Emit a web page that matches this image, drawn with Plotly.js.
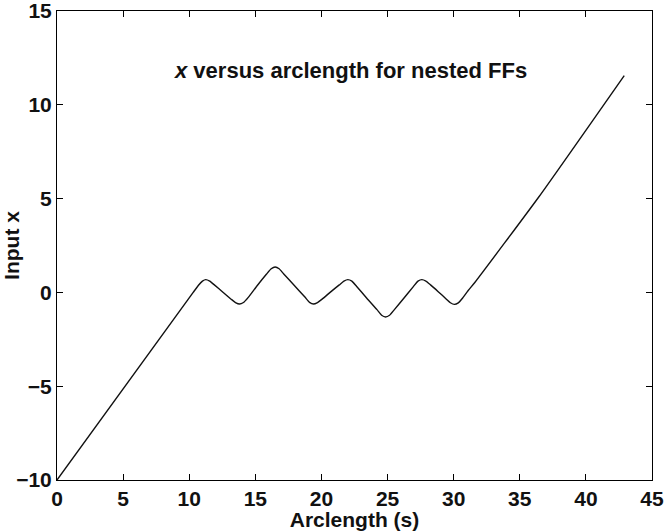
<!DOCTYPE html>
<html>
<head>
<meta charset="utf-8">
<script src="https://cdn.plot.ly/plotly-3.0.1.min.js"></script>
<style>html,body{margin:0;padding:0;background:#fff;}#chart{width:664px;height:531px;}</style>
</head>
<body>
<div id="chart"></div>
<script>
// Arclength (s) values
const arclength = [0, 10.3, 10.7, 11.0, 11.25, 11.55, 11.9, 12.55, 13.2, 13.5, 13.8, 14.1, 14.45, 15.15, 15.85, 16.2, 16.5, 16.8, 17.15, 17.95, 18.75, 19.1, 19.4, 19.7, 20.05, 20.7, 21.35, 21.7, 22.0, 22.3, 22.65, 23.43, 24.2, 24.55, 24.85, 25.15, 25.5, 26.23, 26.95, 27.3, 27.6, 27.9, 28.25, 28.83, 29.45, 29.75, 30.05, 30.35, 30.7, 31.1, 31.6, 36.45, 42.9];
// Input x values
const inputX = [-10, 0.0, 0.38, 0.6, 0.68, 0.6, 0.4, 0.01, -0.38, -0.54, -0.62, -0.54, -0.28, 0.37, 0.98, 1.26, 1.35, 1.26, 0.98, 0.37, -0.25, -0.53, -0.62, -0.54, -0.36, 0.03, 0.4, 0.6, 0.68, 0.6, 0.33, -0.31, -0.92, -1.22, -1.31, -1.22, -0.93, -0.31, 0.31, 0.6, 0.68, 0.6, 0.4, 0.04, -0.36, -0.55, -0.64, -0.56, -0.28, 0.1, 0.53, 5.1, 11.56];
const xTicks = [0, 5, 10, 15, 20, 25, 30, 35, 40, 45];
const yTicks = [-10, -5, 0, 5, 10, 15];
const titleText = "<i>x</i> versus arclength for nested FFs";
const xTitle = "Arclength (s)";
const yTitle = "Input x";

const fontFam = "Liberation Sans, Arial, Helvetica, sans-serif";
const trace = {
  x: arclength, y: inputX, type: 'scatter', mode: 'lines',
  line: {color: '#111', width: 1.4, shape: 'spline', smoothing: 0.5},
  hoverinfo: 'none'
};
const axisCommon = {
  showline: true, linecolor: '#000', linewidth: 1, mirror: 'ticks',
  ticks: 'inside', ticklen: 6, tickwidth: 1, tickcolor: '#000',
  showgrid: false, zeroline: false, ticklabeloverflow: 'allow',
  tickfont: {family: fontFam, size: 21, color: '#111', weight: 'bold'}
};
const layout = {
  width: 664, height: 531,
  margin: {l: 57, r: 12, t: 11, b: 51},
  paper_bgcolor: '#fff', plot_bgcolor: '#fff',
  showlegend: false,
  xaxis: Object.assign({}, axisCommon, {
    range: [0, 45], tickvals: xTicks, ticktext: xTicks.map(String),
    title: {text: xTitle, font: {family: fontFam, size: 21, color: '#111', weight: 'bold'}, standoff: 0}
  }),
  yaxis: Object.assign({}, axisCommon, {
    range: [-10, 15], tickvals: yTicks, ticktext: yTicks.map(v => v < 0 ? '\u2212' + Math.abs(v) : String(v)),
    title: {text: yTitle, font: {family: fontFam, size: 21, color: '#111', weight: 'bold'}, standoff: 1}
  }),
  annotations: [{
    text: titleText, xref: 'paper', yref: 'paper', x: 0.493, y: 0.873,
    xanchor: 'center', yanchor: 'middle', showarrow: false,
    font: {family: fontFam, size: 22, color: '#111', weight: 'bold'}
  }]
};
Plotly.newPlot('chart', [trace], layout, {staticPlot: true, displayModeBar: false});
</script>
</body>
</html>
